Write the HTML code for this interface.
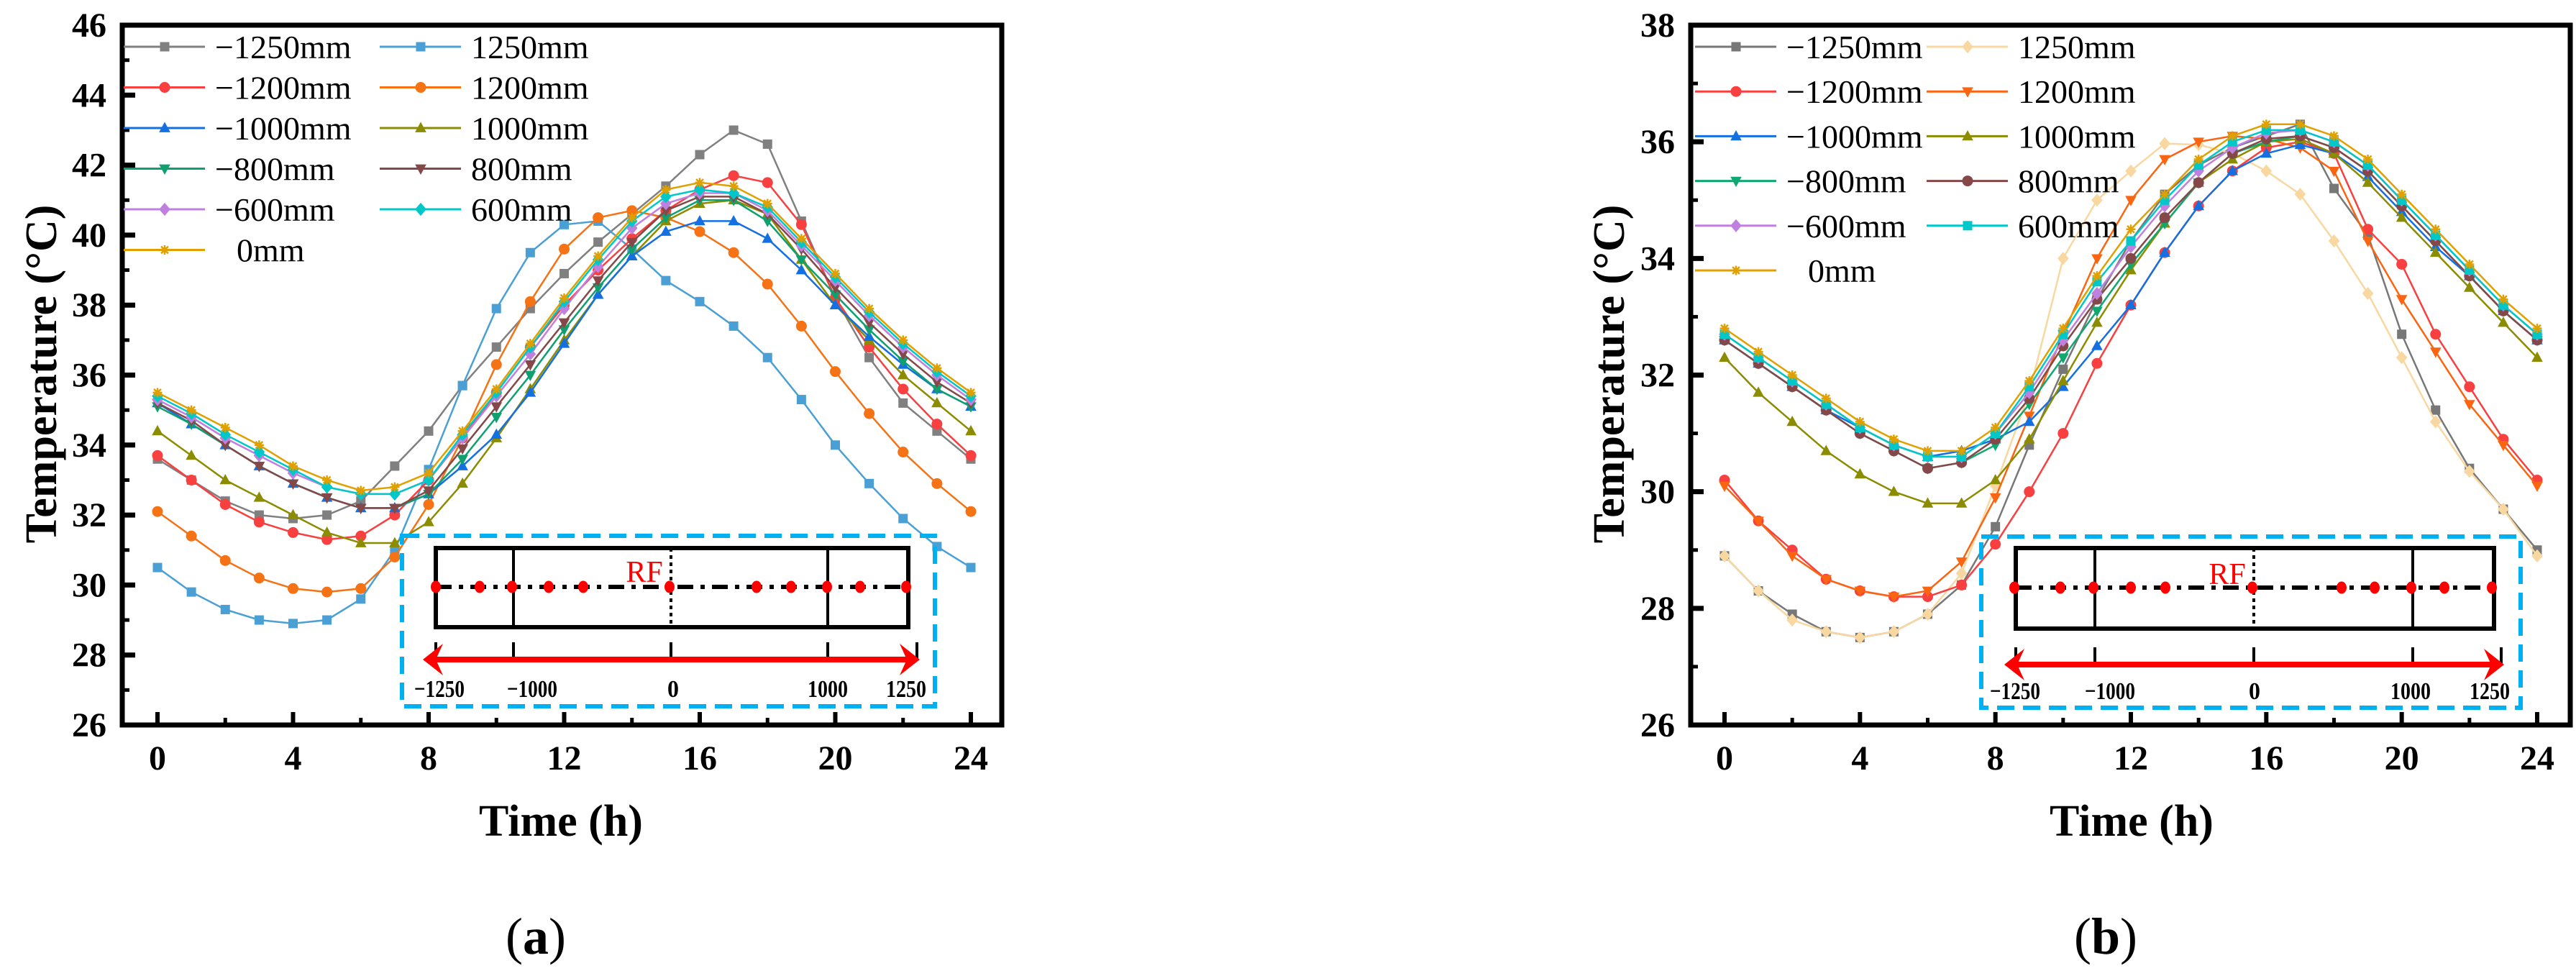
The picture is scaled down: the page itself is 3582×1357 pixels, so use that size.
<!DOCTYPE html>
<html><head><meta charset="utf-8"><style>
html,body{margin:0;padding:0;background:#fff;}
svg{display:block;}
text{font-family:"Liberation Serif",serif;}
</style></head><body>
<svg id="fig" width="3582" height="1357" viewBox="0 0 3582 1357" xmlns="http://www.w3.org/2000/svg">
<rect x="0" y="0" width="3582" height="1357" fill="#fff"/>
<g id="panelA"></g>
<g id="panelB"></g>
</svg>
<script>
const hours = [0,1,2,3,4,5,6,7,8,9,10,11,12,13,14,15,16,17,18,19,20,21,22,23,24];
const xTicks = [0,4,8,12,16,20,24];
const yTicksA = [26,28,30,32,34,36,38,40,42,44,46];
const yTicksB = [26,28,30,32,34,36,38];

const aM1250 = [33.6,33.0,32.4,32.0,31.9,32.0,32.4,33.4,34.4,35.7,36.8,37.9,38.9,39.8,40.6,41.4,42.3,43.0,42.6,40.4,38.2,36.5,35.2,34.4,33.6];
const aM1200 = [33.7,33.0,32.3,31.8,31.5,31.3,31.4,32.0,33.0,34.2,35.5,36.8,38.0,39.0,39.9,40.7,41.3,41.7,41.5,40.3,38.2,36.8,35.6,34.6,33.7];
const aM1000 = [35.2,34.6,34.0,33.4,32.9,32.5,32.2,32.2,32.6,33.4,34.3,35.5,36.9,38.3,39.4,40.1,40.4,40.4,39.9,39.0,38.0,37.1,36.3,35.6,35.1];
const aM800  = [35.1,34.6,34.0,33.4,32.9,32.5,32.2,32.2,32.6,33.6,34.8,36.0,37.3,38.5,39.6,40.5,41.0,41.0,40.4,39.3,38.3,37.3,36.4,35.6,35.1];
const aM600  = [35.3,34.8,34.2,33.7,33.2,32.8,32.6,32.6,33.0,34.2,35.4,36.6,37.9,39.1,40.2,40.9,41.2,41.2,40.7,39.7,38.7,37.7,36.8,36.0,35.3];
const a0     = [35.5,35.0,34.5,34.0,33.4,33.0,32.7,32.8,33.2,34.4,35.6,36.9,38.2,39.4,40.5,41.3,41.5,41.4,40.9,39.9,38.9,37.9,37.0,36.2,35.5];
const aP1250 = [30.5,29.8,29.3,29.0,28.9,29.0,29.6,31.0,33.3,35.7,37.9,39.5,40.3,40.4,39.6,38.7,38.1,37.4,36.5,35.3,34.0,32.9,31.9,31.1,30.5];
const aP1200 = [32.1,31.4,30.7,30.2,29.9,29.8,29.9,30.8,32.3,34.2,36.3,38.1,39.6,40.5,40.7,40.5,40.1,39.5,38.6,37.4,36.1,34.9,33.8,32.9,32.1];
const aP1000 = [34.4,33.7,33.0,32.5,32.0,31.5,31.2,31.2,31.8,32.9,34.2,35.6,37.0,38.3,39.4,40.4,40.9,41.0,40.6,39.3,38.0,37.0,36.0,35.2,34.4];
const aP800  = [35.2,34.7,34.0,33.4,32.9,32.5,32.2,32.2,32.7,33.9,35.1,36.3,37.5,38.7,39.8,40.7,41.1,41.1,40.6,39.6,38.5,37.5,36.6,35.8,35.2];
const aP600  = [35.4,34.9,34.3,33.8,33.3,32.8,32.6,32.6,33.0,34.3,35.5,36.8,38.1,39.3,40.4,41.1,41.3,41.2,40.8,39.8,38.8,37.8,36.9,36.1,35.4];

const bM1250 = [28.9,28.3,27.9,27.6,27.5,27.6,27.9,28.4,29.4,30.8,32.1,33.3,34.3,35.1,35.6,35.9,36.1,36.3,35.2,34.4,32.7,31.4,30.4,29.7,29.0];
const bM1200 = [30.2,29.5,29.0,28.5,28.3,28.2,28.2,28.4,29.1,30.0,31.0,32.2,33.2,34.1,34.9,35.5,35.9,36.0,35.8,34.5,33.9,32.7,31.8,30.9,30.2];
const bM1000 = [32.6,32.2,31.8,31.4,31.1,30.8,30.6,30.7,30.9,31.2,31.8,32.5,33.2,34.1,34.9,35.5,35.8,35.95,35.8,35.4,34.8,34.2,33.7,33.1,32.6];
const bM800  = [32.6,32.2,31.8,31.4,31.0,30.7,30.4,30.5,30.8,31.5,32.3,33.1,33.9,34.6,35.3,35.8,36.0,36.1,35.9,35.5,34.9,34.3,33.7,33.1,32.6];
const bM600  = [32.7,32.3,31.9,31.5,31.1,30.8,30.6,30.6,31.0,31.7,32.6,33.4,34.2,34.9,35.5,35.9,36.15,36.2,36.0,35.6,35.0,34.4,33.8,33.2,32.7];
const b0     = [32.8,32.4,32.0,31.6,31.2,30.9,30.7,30.7,31.1,31.9,32.8,33.7,34.5,35.1,35.7,36.1,36.3,36.3,36.1,35.7,35.1,34.5,33.9,33.3,32.8];
const bP1250 = [28.9,28.3,27.8,27.6,27.5,27.6,27.9,28.6,30.1,31.7,34.0,35.0,35.5,35.97,35.95,35.8,35.5,35.1,34.3,33.4,32.3,31.2,30.35,29.7,28.9];
const bP1200 = [30.1,29.5,28.9,28.5,28.3,28.2,28.3,28.8,29.9,31.3,32.7,34.0,35.0,35.7,36.0,36.1,36.05,35.9,35.5,34.3,33.3,32.4,31.5,30.8,30.1];
const bP1000 = [32.3,31.7,31.2,30.7,30.3,30.0,29.8,29.8,30.2,30.9,31.9,32.9,33.8,34.6,35.3,35.7,36.0,36.05,35.8,35.3,34.7,34.1,33.5,32.9,32.3];
const bP800  = [32.6,32.2,31.8,31.4,31.0,30.7,30.4,30.5,30.9,31.6,32.5,33.3,34.0,34.7,35.3,35.8,36.05,36.1,35.9,35.5,34.9,34.3,33.7,33.1,32.6];
const bP600  = [32.7,32.3,31.9,31.5,31.1,30.8,30.6,30.6,31.0,31.8,32.7,33.6,34.3,35.0,35.6,36.0,36.2,36.2,36.0,35.6,35.0,34.4,33.8,33.2,32.7];

const insetLabels = ["\u22121250","\u22121000","0","1000","1250"];

const NS = "http://www.w3.org/2000/svg";
function mk(tag, attrs, parent){
  const e = document.createElementNS(NS, tag);
  for (const k in attrs) e.setAttribute(k, attrs[k]);
  parent.appendChild(e);
  return e;
}

function marker(g, shape, cx, cy, color, s){
  let e;
  if (shape === 'square') e = mk('rect',{x:cx-s/2,y:cy-s/2,width:s,height:s,fill:color},g);
  else if (shape === 'circle') e = mk('circle',{cx:cx,cy:cy,r:s/2+1,fill:color},g);
  else if (shape === 'up') e = mk('polygon',{points:`${cx},${cy-s*0.65} ${cx-s*0.6},${cy+s*0.45} ${cx+s*0.6},${cy+s*0.45}`,fill:color},g);
  else if (shape === 'down') e = mk('polygon',{points:`${cx},${cy+s*0.65} ${cx-s*0.6},${cy-s*0.45} ${cx+s*0.6},${cy-s*0.45}`,fill:color},g);
  else if (shape === 'diamond') e = mk('polygon',{points:`${cx},${cy-s*0.7} ${cx+s*0.6},${cy} ${cx},${cy+s*0.7} ${cx-s*0.6},${cy}`,fill:color},g);
  else {
    e = mk('path',{d:`M${cx-s/2},${cy}H${cx+s/2}M${cx},${cy-s/2}V${cy+s/2}M${cx-s*0.38},${cy-s*0.38}L${cx+s*0.38},${cy+s*0.38}M${cx-s*0.38},${cy+s*0.38}L${cx+s*0.38},${cy-s*0.38}`,stroke:color,'stroke-width':2.5,fill:'none'},g);
  }
  
  
  return e;
}

function drawPanel(root, cfg){
  const xs = h => cfg.x0 + (h - 0) * (cfg.x24 - cfg.x0) / 24;
  const ys = v => cfg.yBot - (v - cfg.yMin) * (cfg.yBot - cfg.yTop) / (cfg.yMax - cfg.yMin);

  // series
  const sg = mk('g',{},root);
  
  
  cfg.series.forEach(s => {
    const g = mk('g',{},sg);
    
    
    const pts = s.data.map((v,i)=>xs(hours[i]).toFixed(1)+','+ys(v).toFixed(1)).join(' ');
    const pl = mk('polyline',{points:pts,fill:'none',stroke:s.color,'stroke-width':2.5},g);
    
    
    s.data.forEach((v,i)=>marker(g, s.shape, xs(hours[i]), ys(v), s.color, 13));
  });

  // frame
  const fr = mk('rect',{x:cfg.left,y:cfg.yTop,width:cfg.right-cfg.left,height:cfg.yBot-cfg.yTop,fill:'none',stroke:'#000','stroke-width':7},root);
  
  

  // y ticks
  const yt = mk('g',{},root);
  
  
  cfg.yTicks.forEach((v,i)=>{
    const y = ys(v);
    mk('line',{x1:cfg.left,x2:cfg.left+18,y1:y,y2:y,stroke:'#000','stroke-width':7},yt);
    if (i < cfg.yTicks.length-1){
      const ym = ys(v+1);
      mk('line',{x1:cfg.left,x2:cfg.left+10,y1:ym,y2:ym,stroke:'#000','stroke-width':5},yt);
    }
    const t = mk('text',{x:cfg.left-22,y:y+16,'text-anchor':'end','font-size':48,'font-weight':'bold'},yt);
    t.textContent = v;
    
    
  });
  // x ticks
  const xt = mk('g',{},root);
  
  
  xTicks.forEach((h,i)=>{
    const x = xs(h);
    mk('line',{x1:x,x2:x,y1:cfg.yBot,y2:cfg.yBot-18,stroke:'#000','stroke-width':6},xt);
    if (i < xTicks.length-1){
      const xm = xs(h+2);
      mk('line',{x1:xm,x2:xm,y1:cfg.yBot,y2:cfg.yBot-10,stroke:'#000','stroke-width':5},xt);
    }
    const t = mk('text',{x:x,y:cfg.yBot+62,'text-anchor':'middle','font-size':48,'font-weight':'bold'},xt);
    t.textContent = h;
    
    
  });

  // axis titles
  const xtl = mk('text',{x:cfg.timeX,y:1162,'text-anchor':'middle','font-size':62,'font-weight':'bold'},root);
  xtl.textContent = 'Time (h)';
  
  
  const ytl = mk('text',{x:0,y:0,'text-anchor':'middle','font-size':62,'font-weight':'bold',transform:`translate(${cfg.ytX},520) rotate(-90)`},root);
  ytl.textContent = 'Temperature (\u00B0C)';
  
  
  const pl = mk('text',{x:cfg.capX,y:1326,'text-anchor':'middle','font-size':72},root);
  pl.innerHTML = '(<tspan font-weight="bold">'+cfg.cap+'</tspan>)';
  
  

  // legend
  const lg = mk('g',{},root);
  
  
  cfg.legend.forEach(item=>{
    const s = cfg.series.find(q=>q.id===item.id);
    const cx = item.col===0 ? cfg.legC1 : cfg.legC2;
    const y = cfg.legY0 + item.row*cfg.legDy;
    const eg = mk('g',{},lg);
    
    
    mk('line',{x1:cx,x2:cx+113,y1:y,y2:y,stroke:s.color,'stroke-width':3},eg);
    marker(eg, s.shape, cx+57, y, s.color, 13);
    const t = mk('text',{x:cx+127+(item.pad||0),y:y+16,'font-size':46},eg);
    t.textContent = s.label;
  });

  // inset
  const ins = cfg.inset;
  const ig = mk('g',{},root);
  
  
  mk('rect',{x:ins.bx1,y:ins.by1,width:ins.bx2-ins.bx1,height:ins.by2-ins.by1,fill:'none',stroke:'#00b0f0','stroke-width':6,'stroke-dasharray':'24 12'},ig);
  mk('rect',{x:ins.rx1,y:ins.ry1,width:ins.rx2-ins.rx1,height:ins.ry2-ins.ry1,fill:'#fff',stroke:'#000','stroke-width':6},ig);
  mk('line',{x1:ins.v1,x2:ins.v1,y1:ins.ry1,y2:ins.ry2,stroke:'#000','stroke-width':4},ig);
  mk('line',{x1:ins.v2,x2:ins.v2,y1:ins.ry1,y2:ins.ry2,stroke:'#000','stroke-width':4},ig);
  mk('line',{x1:ins.v0,x2:ins.v0,y1:ins.ry1,y2:ins.ry2,stroke:'#000','stroke-width':4,'stroke-dasharray':'5 5'},ig);
  mk('line',{x1:ins.rx1,x2:ins.rx2,y1:ins.dy,y2:ins.dy,stroke:'#000','stroke-width':6,'stroke-dasharray':'22 10 6 10'},ig);
  ins.dots.forEach(x=>{
    const d = mk('ellipse',{cx:x,cy:ins.dy,rx:7,ry:8.5,fill:'#f00'},ig);
    
    
  });
  const rf = mk('text',{x:ins.rfx,y:ins.rfy+14,'text-anchor':'middle','font-size':42,fill:'#f00'},ig);
  rf.textContent = 'RF';
  ins.ticks.forEach(x=>mk('line',{x1:x,x2:x,y1:ins.ay-24,y2:ins.ay,stroke:'#000','stroke-width':4},ig));
  const a = ins;
  mk('line',{x1:a.ax1+8,x2:a.ax2-8,y1:a.ay,y2:a.ay,stroke:'#f00','stroke-width':8},ig);
  mk('polygon',{points:`${a.ax1},${a.ay} ${a.ax1+28},${a.ay-22} ${a.ax1+18},${a.ay} ${a.ax1+28},${a.ay+22}`,fill:'#f00'},ig);
  mk('polygon',{points:`${a.ax2},${a.ay} ${a.ax2-28},${a.ay-22} ${a.ax2-18},${a.ay} ${a.ax2-28},${a.ay+22}`,fill:'#f00'},ig);
  insetLabels.forEach((lab,i)=>{
    const t = mk('text',{x:ins.labX[i],y:ins.labY+12,'text-anchor':'middle','font-size':34,'font-weight':'bold',textLength:i<2?70:(i===2?16:56),lengthAdjust:'spacingAndGlyphs'},ig);
    t.textContent = lab;
    
    
  });
}

const legendLayout = [
  {id:'m1250',col:0,row:0},{id:'m1200',col:0,row:1},{id:'m1000',col:0,row:2},{id:'m800',col:0,row:3},{id:'m600',col:0,row:4},{id:'z0',col:0,row:5,pad:30},
  {id:'p1250',col:1,row:0},{id:'p1200',col:1,row:1},{id:'p1000',col:1,row:2},{id:'p800',col:1,row:3},{id:'p600',col:1,row:4}
];

drawPanel(document.getElementById('panelA'), {
  left:170, right:1393, yTop:35, yBot:1008, x0:219, x24:1350, yMin:26, yMax:46, yTicks:yTicksA,
  timeX:780, ytX:78, capX:745, cap:'a',
  legC1:172, legC2:528, legY0:65, legDy:56.5, legend:legendLayout,
  series:[
    {id:'m1250',label:'\u22121250mm',color:'#808080',shape:'square',data:aM1250},
    {id:'p1250',label:'1250mm',color:'#4aa0d5',shape:'square',data:aP1250},
    {id:'p1200',label:'1200mm',color:'#f57215',shape:'circle',data:aP1200},
    {id:'m1200',label:'\u22121200mm',color:'#f84040',shape:'circle',data:aM1200},
    {id:'p1000',label:'1000mm',color:'#8c8c00',shape:'up',data:aP1000},
    {id:'m1000',label:'\u22121000mm',color:'#1470e0',shape:'up',data:aM1000},
    {id:'m800',label:'\u2212800mm',color:'#10a070',shape:'down',data:aM800},
    {id:'p800',label:'800mm',color:'#844848',shape:'down',data:aP800},
    {id:'m600',label:'\u2212600mm',color:'#c080e0',shape:'diamond',data:aM600},
    {id:'p600',label:'600mm',color:'#00c8c8',shape:'diamond',data:aP600},
    {id:'z0',label:'0mm',color:'#e0a000',shape:'star',data:a0}
  ],
  inset:{bx1:559,by1:745,bx2:1300,by2:982,rx1:606,ry1:762,rx2:1263,ry2:872,v1:714,v2:1151,v0:933,dy:816,
    dots:[606,667,712,763,811,931,1052,1100,1150,1196,1260],rfx:896,rfy:795,
    ticks:[606,714,933,1151,1275],ax1:588,ax2:1279,ay:917,labX:[611,740,936,1151,1260],labY:957}
});

drawPanel(document.getElementById('panelB'), {
  left:2351, right:3574, yTop:35, yBot:1008, x0:2398, x24:3528, yMin:26, yMax:38, yTicks:yTicksB,
  timeX:2964, ytX:2258, capX:2928, cap:'b',
  legC1:2357, legC2:2679, legY0:65, legDy:62.2, legend:legendLayout,
  series:[
    {id:'m1250',label:'\u22121250mm',color:'#777777',shape:'square',data:bM1250},
    {id:'p1250',label:'1250mm',color:'#f8d8a0',shape:'diamond',data:bP1250},
    {id:'m1200',label:'\u22121200mm',color:'#f84040',shape:'circle',data:bM1200},
    {id:'p1200',label:'1200mm',color:'#fb6410',shape:'down',data:bP1200},
    {id:'m1000',label:'\u22121000mm',color:'#1470e0',shape:'up',data:bM1000},
    {id:'p1000',label:'1000mm',color:'#8c8c00',shape:'up',data:bP1000},
    {id:'m800',label:'\u2212800mm',color:'#10a870',shape:'down',data:bM800},
    {id:'p800',label:'800mm',color:'#844848',shape:'circle',data:bP800},
    {id:'m600',label:'\u2212600mm',color:'#c080e0',shape:'diamond',data:bM600},
    {id:'p600',label:'600mm',color:'#00c8c8',shape:'square',data:bP600},
    {id:'z0',label:'0mm',color:'#e0a000',shape:'star',data:b0}
  ],
  inset:{bx1:2755,by1:746,bx2:3505,by2:984,rx1:2803,ry1:762,rx2:3468,ry2:874,v1:2913,v2:3355,v0:3134,dy:817,
    dots:[2801,2865,2911,2963,3011,3132,3256,3302,3353,3399,3465],rfx:3097,rfy:798,
    ticks:[2803,2913,3134,3355,3478],ax1:2787,ax2:3482,ay:924,labX:[2802,2934,3135,3352,3462],labY:960}
});
</script>
</body></html>
